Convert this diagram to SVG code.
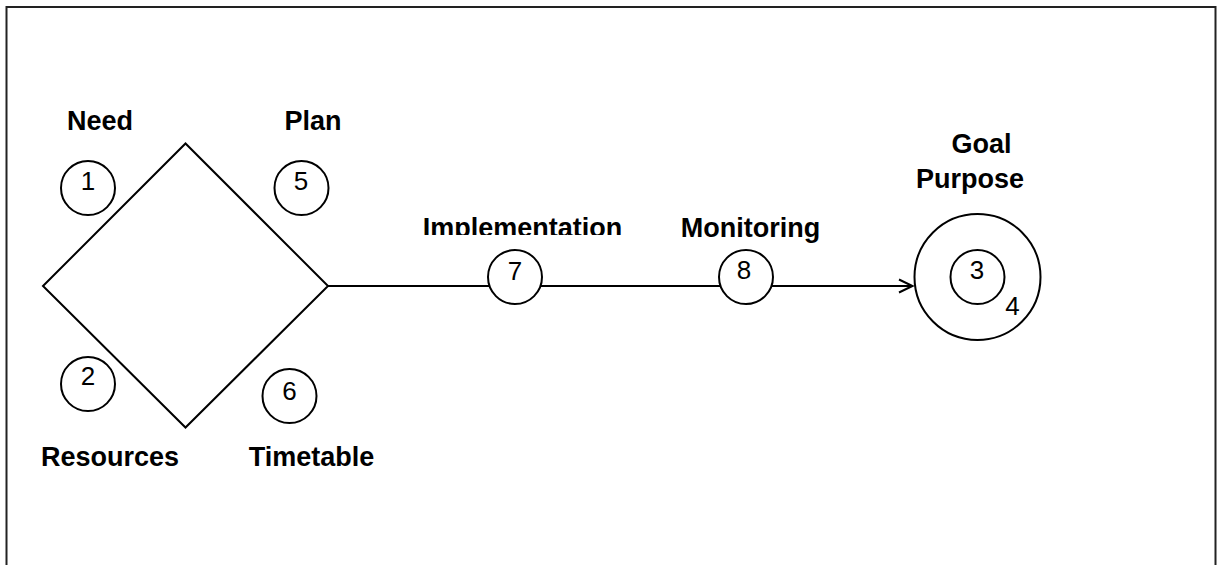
<svg xmlns="http://www.w3.org/2000/svg" width="1220" height="565" viewBox="0 0 1220 565">
<defs>
<style>
.lbl{font-family:"Liberation Sans",Arial,sans-serif;font-weight:bold;font-size:27px;fill:#000;text-anchor:middle}
.num{font-family:"Liberation Sans",Arial,sans-serif;font-size:26px;fill:#000;text-anchor:middle}
.shape{fill:#fff;stroke:#000;stroke-width:2}
.conn{fill:none;stroke:#000;stroke-width:2}
</style>
<clipPath id="clipImpl"><rect x="380" y="190" width="300" height="45"/></clipPath>
</defs>
<rect x="0" y="0" width="1220" height="565" fill="#fff"/>
<path d="M6.5,570 V7 H1215.5 V570" fill="none" stroke="#222" stroke-width="2"/>
<g id="connectors">
<line class="conn" x1="328" y1="286" x2="912" y2="286"/>
<polyline class="conn" points="899,279.5 912.5,286 899,292.5"/>
</g>
<g id="diamond"><polygon class="shape" points="43,286 185.5,143.5 328,286 185.5,427.5"/></g>
<g id="need"><text class="lbl" x="100" y="130">Need</text><circle class="shape" cx="88" cy="188" r="27"/><text class="num" x="88" y="189.5">1</text></g>
<g id="plan"><text class="lbl" x="313" y="129.5">Plan</text><circle class="shape" cx="301.5" cy="188" r="27"/><text class="num" x="301" y="189.5">5</text></g>
<g id="resources"><text class="lbl" x="110" y="466">Resources</text><circle class="shape" cx="88" cy="384" r="27"/><text class="num" x="88" y="384.5">2</text></g>
<g id="timetable"><text class="lbl" x="311.5" y="466">Timetable</text><circle class="shape" cx="289.5" cy="396" r="27"/><text class="num" x="289.5" y="400">6</text></g>
<g id="implementation"><text class="lbl" x="522.5" y="236.5" clip-path="url(#clipImpl)">Implementation</text><circle class="shape" cx="515" cy="277" r="27"/><text class="num" x="515" y="279.5">7</text></g>
<g id="monitoring"><text class="lbl" x="750.5" y="236.5">Monitoring</text><circle class="shape" cx="746" cy="277" r="27"/><text class="num" x="744" y="279">8</text></g>
<g id="goal">
<text class="lbl" x="981.5" y="153">Goal</text>
<text class="lbl" x="970" y="188">Purpose</text>
<circle class="shape" cx="977.5" cy="277" r="63"/>
<circle class="shape" cx="977.5" cy="277" r="27"/>
<text class="num" x="977" y="279">3</text>
<text class="num" x="1012.5" y="314.5">4</text>
</g>
</svg>
